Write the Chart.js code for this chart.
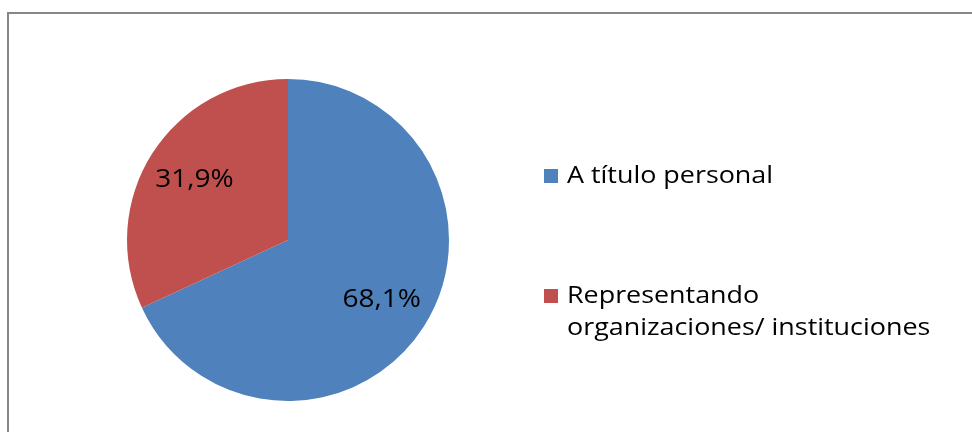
<!DOCTYPE html>
<html>
<head>
<meta charset="utf-8">
<script src="https://cdn.jsdelivr.net/npm/chart.js@4"></script>
<style>
  html, body { margin: 0; padding: 0; background: #fff; }
  #wrap { width: 972px; height: 432px; position: relative; }
</style>
</head>
<body>
<div id="wrap"><canvas id="c" width="972" height="432"></canvas></div>
<script>
const labels = ["A título personal", ["Representando", "organizaciones/ instituciones"]];
const shares = [68.1, 31.9];
const colors = ["#4F81BD", "#C0504D"];
const valueText = ["68,1%", "31,9%"];

const FONT = "'Open Sans', 'Noto Sans', sans-serif";
const STRETCH = 1.12; // the original text is a bit wider than Open Sans

function wideText(ctx, txt, x, y, align) {
  ctx.save();
  ctx.translate(x, y);
  ctx.scale(STRETCH, 1);
  ctx.textAlign = align;
  ctx.fillText(txt, 0, 0);
  ctx.restore();
}

// outer frame of the original figure
const framePlugin = {
  id: "frame",
  beforeDraw(chart) {
    const ctx = chart.ctx;
    ctx.save();
    ctx.fillStyle = "#fff";
    ctx.fillRect(0, 0, chart.width, chart.height);
    ctx.strokeStyle = "#878787";
    ctx.lineWidth = 2;
    ctx.beginPath();
    ctx.moveTo(8, chart.height + 5);
    ctx.lineTo(8, 13);
    ctx.lineTo(chart.width + 5, 13);
    ctx.stroke();
    ctx.restore();
  },
};

// percentage labels inside slices
const sliceLabels = {
  id: "sliceLabels",
  afterDatasetsDraw(chart) {
    const ctx = chart.ctx;
    const meta = chart.getDatasetMeta(0);
    ctx.save();
    ctx.font = "25px " + FONT;
    ctx.fillStyle = "#000";
    ctx.textBaseline = "middle";
    meta.data.forEach((arc, i) => {
      const mid = (arc.startAngle + arc.endAngle) / 2;
      const r = arc.outerRadius * 0.69;
      wideText(ctx, valueText[i], arc.x + Math.cos(mid) * r, arc.y + Math.sin(mid) * r, "center");
    });
    ctx.restore();
  },
};

// legend on the right, one entry per slice
const sideLegend = {
  id: "sideLegend",
  afterDraw(chart) {
    const ctx = chart.ctx;
    const tops = [176, 296];
    ctx.save();
    ctx.font = "24px " + FONT;
    ctx.textBaseline = "middle";
    chart.data.labels.forEach((lab, i) => {
      const lines = Array.isArray(lab) ? lab : [lab];
      const y = tops[i];
      ctx.fillStyle = chart.data.datasets[0].backgroundColor[i];
      ctx.fillRect(544, y - 7, 14, 14);
      ctx.fillStyle = "#000";
      lines.forEach((ln, k) => wideText(ctx, ln, 567, y + k * 32, "left"));
    });
    ctx.restore();
  },
};

new Chart(document.getElementById("c").getContext("2d"), {
  type: "pie",
  data: {
    labels,
    datasets: [
      {
        data: shares,
        backgroundColor: colors,
        borderWidth: 0,
      },
    ],
  },
  options: {
    responsive: false,
    animation: false,
    rotation: 0,
    layout: { padding: { left: 126, right: 522, top: 79, bottom: 31 } },
    plugins: {
      legend: { display: false },
      tooltip: { enabled: false },
    },
  },
  plugins: [framePlugin, sliceLabels, sideLegend],
});
</script>
</body>
</html>
